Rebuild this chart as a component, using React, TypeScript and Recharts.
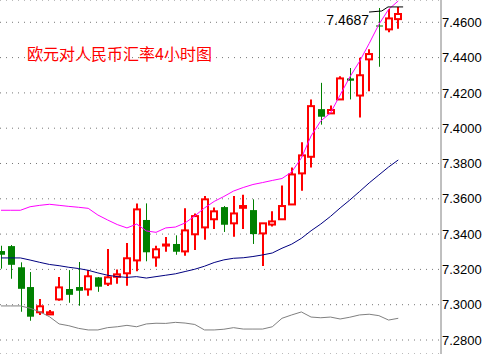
import { ComposedChart, Bar, Line, XAxis, YAxis, CartesianGrid, ReferenceLine, ReferenceDot } from 'recharts'

// 4-hour candles, EUR/CNY
const opens = [7.3304, 7.3332, 7.3212, 7.3100, 7.2957, 7.2945, 7.3030, 7.3089, 7.3100, 7.3087, 7.3155, 7.3119, 7.3158, 7.3178, 7.3251, 7.3480, 7.3268, 7.3335, 7.3344, 7.3302, 7.3399, 7.3438, 7.3484, 7.3553, 7.3461, 7.3549, 7.3536, 7.3404, 7.3454, 7.3484, 7.3568, 7.3744, 7.3838, 7.4108, 7.4084, 7.4163, 7.4282, 7.4185, 7.4390, 7.4582, 7.4560, 7.4618]
const highs = [7.3334, 7.3338, 7.3240, 7.3185, 7.3032, 7.2970, 7.3157, 7.3196, 7.3242, 7.3196, 7.3157, 7.3315, 7.3200, 7.3349, 7.3574, 7.3574, 7.3334, 7.3383, 7.3393, 7.3546, 7.3517, 7.3616, 7.3551, 7.3559, 7.3616, 7.3623, 7.3597, 7.3462, 7.3529, 7.3676, 7.3778, 7.3921, 7.4163, 7.4257, 7.4129, 7.4295, 7.4341, 7.4399, 7.4447, 7.4681, 7.4675, 7.4687]
const lows = [7.3204, 7.3147, 7.2960, 7.2909, 7.2941, 7.2942, 7.3022, 7.3011, 7.2994, 7.3051, 7.3073, 7.3106, 7.3119, 7.3107, 7.3189, 7.3246, 7.3215, 7.3300, 7.3283, 7.3277, 7.3310, 7.3368, 7.3429, 7.3412, 7.3385, 7.3429, 7.3344, 7.3219, 7.3443, 7.3482, 7.3566, 7.3646, 7.3778, 7.4020, 7.4082, 7.4161, 7.4163, 7.4060, 7.4209, 7.4348, 7.4543, 7.4563]
const closes = [7.3283, 7.3226, 7.3090, 7.2932, 7.2991, 7.2957, 7.3098, 7.3056, 7.3079, 7.3161, 7.3102, 7.3155, 7.3172, 7.3263, 7.3540, 7.3297, 7.3314, 7.3341, 7.3300, 7.3421, 7.3502, 7.3597, 7.3529, 7.3453, 7.3517, 7.3559, 7.3400, 7.3461, 7.3472, 7.3559, 7.3738, 7.3846, 7.4125, 7.4065, 7.4103, 7.4282, 7.4269, 7.4300, 7.4420, 7.4576, 7.4622, 7.4647]

// bollinger bands
const upperBand = [7.3535, 7.3535, 7.3535, 7.3555, 7.3563, 7.3569, 7.3563, 7.3557, 7.3552, 7.3546, 7.3508, 7.3480, 7.3454, 7.3435, 7.3457, 7.3418, 7.3410, 7.3435, 7.3440, 7.3463, 7.3503, 7.3548, 7.3585, 7.3613, 7.3644, 7.3664, 7.3681, 7.3692, 7.3704, 7.3715, 7.3752, 7.3831, 7.3956, 7.4041, 7.4086, 7.4188, 7.4290, 7.4378, 7.4480, 7.4588, 7.4673, 7.4721]
const midBand = [7.3265, 7.3265, 7.3265, 7.3253, 7.3240, 7.3228, 7.3221, 7.3212, 7.3205, 7.3195, 7.3180, 7.3167, 7.3159, 7.3155, 7.3159, 7.3151, 7.3159, 7.3167, 7.3175, 7.3188, 7.3201, 7.3218, 7.3239, 7.3254, 7.3263, 7.3266, 7.3273, 7.3282, 7.3293, 7.3320, 7.3343, 7.3376, 7.3419, 7.3457, 7.3500, 7.3548, 7.3593, 7.3641, 7.3690, 7.3735, 7.3780, 7.3820]
const lowerBand = [7.2993, 7.2993, 7.2993, 7.2980, 7.2960, 7.2932, 7.2891, 7.2881, 7.2866, 7.2857, 7.2857, 7.2870, 7.2875, 7.2883, 7.2875, 7.2891, 7.2895, 7.2894, 7.2900, 7.2896, 7.2888, 7.2857, 7.2857, 7.2861, 7.2870, 7.2862, 7.2862, 7.2862, 7.2875, 7.2923, 7.2942, 7.2959, 7.2930, 7.2926, 7.2930, 7.2919, 7.2929, 7.2942, 7.2946, 7.2938, 7.2913, 7.2923]

const yTicks = [7.28, 7.3, 7.32, 7.34, 7.36, 7.38, 7.4, 7.42, 7.44, 7.46]
const maxLabel = '7.4687'
const title = '欧元对人民币汇率4小时图'

const rows = opens.map((o, i) => ({
  i,
  open: o,
  high: highs[i],
  low: lows[i],
  close: closes[i],
  upper: upperBand[i],
  mid: midBand[i],
  lower: lowerBand[i],
}))

function Candle(props: any) {
  const { x, y, width, height, payload } = props
  if (x == null || y == null) return null
  const { open, close, high, low } = payload
  const top = Math.min(y, y + height)
  const bot = Math.max(y, y + height)
  const span = high - low || 1
  const py = (v: number) => top + ((high - v) / span) * (bot - top)
  const cx = Math.round(x + width / 2)
  const yo = py(open)
  const yc = py(close)
  const bTop = Math.min(yo, yc)
  const bH = Math.max(yo, yc) - bTop
  if (close >= open) {
    return (
      <g>
        <line x1={cx} x2={cx} y1={py(high)} y2={py(low)} stroke="#ff0000" strokeWidth={2} />
        <rect x={cx - 3} y={bTop} width={6} height={Math.max(bH, 0.5)} fill="#ffffff" stroke="#ff0000" strokeWidth={2} />
      </g>
    )
  }
  return (
    <g>
      <line x1={cx + 0.5} x2={cx + 0.5} y1={py(high)} y2={py(low)} stroke="#008000" strokeWidth={1} />
      <rect x={cx - 3} y={bTop} width={7} height={Math.max(bH, 1)} fill="#008000" />
    </g>
  )
}

const font = 'Liberation Sans, Arial, sans-serif'

export default function App() {
  return (
    <div style={{ position: 'absolute', left: 0, top: 0, width: 483, height: 354, background: '#fff' }}>
      <ComposedChart width={483} height={354} data={rows} margin={{ top: 0, right: 0, bottom: 0, left: 0 }}>
        <CartesianGrid vertical={false} stroke="#777777" strokeDasharray="1 5" />
        <XAxis dataKey="i" type="number" domain={[-0.103, 45.41]} allowDataOverflow hide />
        <YAxis
          orientation="right"
          width={42}
          domain={[7.27207, 7.47263]}
          allowDataOverflow
          ticks={yTicks}
          tickFormatter={(v: number) => v.toFixed(4)}
          tickLine={false}
          tickSize={0}
          tickMargin={1}
          axisLine={{ stroke: '#808080' }}
          tick={{ fill: '#000', fontSize: 13, fontFamily: font, textAnchor: 'start' }}
        />
        <Line dataKey="lower" stroke="#808080" strokeWidth={1} dot={false} activeDot={false} isAnimationActive={false} />
        <Line dataKey="mid" stroke="#000080" strokeWidth={1} dot={false} activeDot={false} isAnimationActive={false} />
        <Line dataKey="upper" stroke="#ff00ff" strokeWidth={1} dot={false} activeDot={false} isAnimationActive={false} />
        <Bar dataKey={(d: any) => [d.low, d.high]} barSize={8} shape={<Candle />} isAnimationActive={false} />
        <ReferenceLine segment={[{ x: 37.98, y: 7.4658 }, { x: 39.3, y: 7.4664 }]} stroke="#000" ifOverflow="visible" />
        <ReferenceLine segment={[{ x: 39.3, y: 7.4664 }, { x: 39.94, y: 7.4687 }]} stroke="#000" ifOverflow="visible" />
        <ReferenceLine segment={[{ x: 39.94, y: 7.4687 }, { x: 41.5, y: 7.4687 }]} stroke="#000" ifOverflow="visible" />
        <ReferenceDot
          x={38.1}
          y={7.4613}
          r={0}
          fill="none"
          stroke="none"
          ifOverflow="visible"
          label={{ value: maxLabel, position: 'left', offset: 1, fill: '#000', fontSize: 14, fontFamily: font }}
        />
      </ComposedChart>
      <svg width={483} height={354} style={{ position: 'absolute', left: 0, top: 0, pointerEvents: 'none' }}>
        <text x={27} y={60} fill="#ff0000" fontSize={16} fontFamily="Noto Sans CJK SC, sans-serif">
          {title}
        </text>
      </svg>
    </div>
  )
}
